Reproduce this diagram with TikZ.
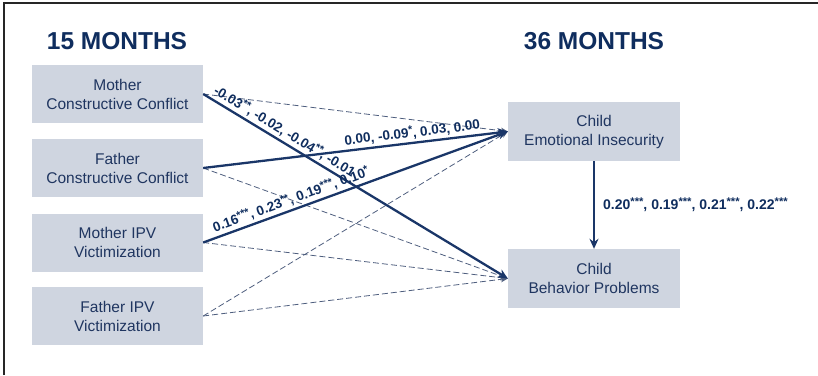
\documentclass[tikz,border=0pt]{standalone}
\usepackage{fontspec}
\setmainfont{Liberation Sans}
\usetikzlibrary{arrows.meta}
\definecolor{navy}{HTML}{0F2D5E}
\definecolor{arrowc}{HTML}{1A3668}
\definecolor{boxfill}{HTML}{CFD5E0}
\definecolor{boxtext}{HTML}{1F3560}
\definecolor{dashc}{HTML}{4E5E7E}
\newcommand\sig[1]{\raisebox{0.3em}{\scalebox{0.8}{#1}}}
\tikzset{
  box/.style={fill=boxfill, inner sep=0pt, minimum width=171pt, minimum height=58pt,
    align=center, text=boxtext, font=\fontsize{15.5}{19}\selectfont},
  title/.style={text=navy, font=\fontsize{24.5}{28}\selectfont\bfseries, inner sep=0pt},
  solidarr/.style={draw=arrowc, line width=2.3pt, -{Stealth[length=10pt,width=9pt]}},
  dasharr/.style={draw=dashc, line width=0.8pt, dash pattern=on 6pt off 3pt, -{Stealth[length=7pt,width=6pt]}},
  lab/.style={text=navy, font=\fontsize{13.5}{15}\selectfont\bfseries, inner sep=2.5pt, sloped, above},
}
\begin{document}
\begin{tikzpicture}[x=1pt,y=-1pt]
\useasboundingbox (0,0) rectangle (818,375);
\draw[line width=1.5pt, black!85] (4,375) -- (4,3) -- (818,3);
\node[title] (t15) at (117,41) {15 MONTHS};
\node[title] (t36) at (594,41) {36 MONTHS};
\node[box] (mcc) at (117.5,94) {Mother\\Constructive Conflict};
\node[box] (fcc) at (117.5,168) {Father\\Constructive Conflict};
\node[box] (mipv) at (117.5,242.5) {Mother IPV\\Victimization};
\node[box] (fipv) at (117.5,316) {Father IPV\\Victimization};
\node[box, minimum width=172pt, minimum height=59pt] (ei) at (594,131.5) {Child\\Emotional Insecurity};
\node[box, minimum width=172pt, minimum height=59pt] (bp) at (594,278.5) {Child\\Behavior Problems};
% dashed paths
\draw[dasharr] (mcc.east) -- (ei.west);
\draw[dasharr] (fcc.east) -- (bp.west);
\draw[dasharr] (mipv.east) -- (bp.west);
\draw[dasharr] (fipv.east) -- (ei.west);
\draw[dasharr] (fipv.east) -- (bp.west);
% solid paths
\draw[solidarr] (mcc.east) -- node[lab, pos=0.25] {-0.03\sig{**}, -0.02, -0.04\sig{**}, -0.01} (bp.west);
\draw[solidarr] (fcc.east) -- node[lab, pos=0.69] {0.00, -0.09\sig{*}, 0.03, 0.00} (ei.west);
\draw[solidarr] (mipv.east) -- node[lab, pos=0.30] {0.16\sig{***}, 0.23\sig{**}, 0.19\sig{***}, 0.10\sig{*}} (ei.west);
\draw[solidarr] (ei.south) -- node[right, text=navy, font=\fontsize{14}{16}\selectfont\bfseries, inner sep=0pt, xshift=8pt] {0.20\sig{***}, 0.19\sig{***}, 0.21\sig{***}, 0.22\sig{***}} (bp.north);
\end{tikzpicture}
\end{document}
